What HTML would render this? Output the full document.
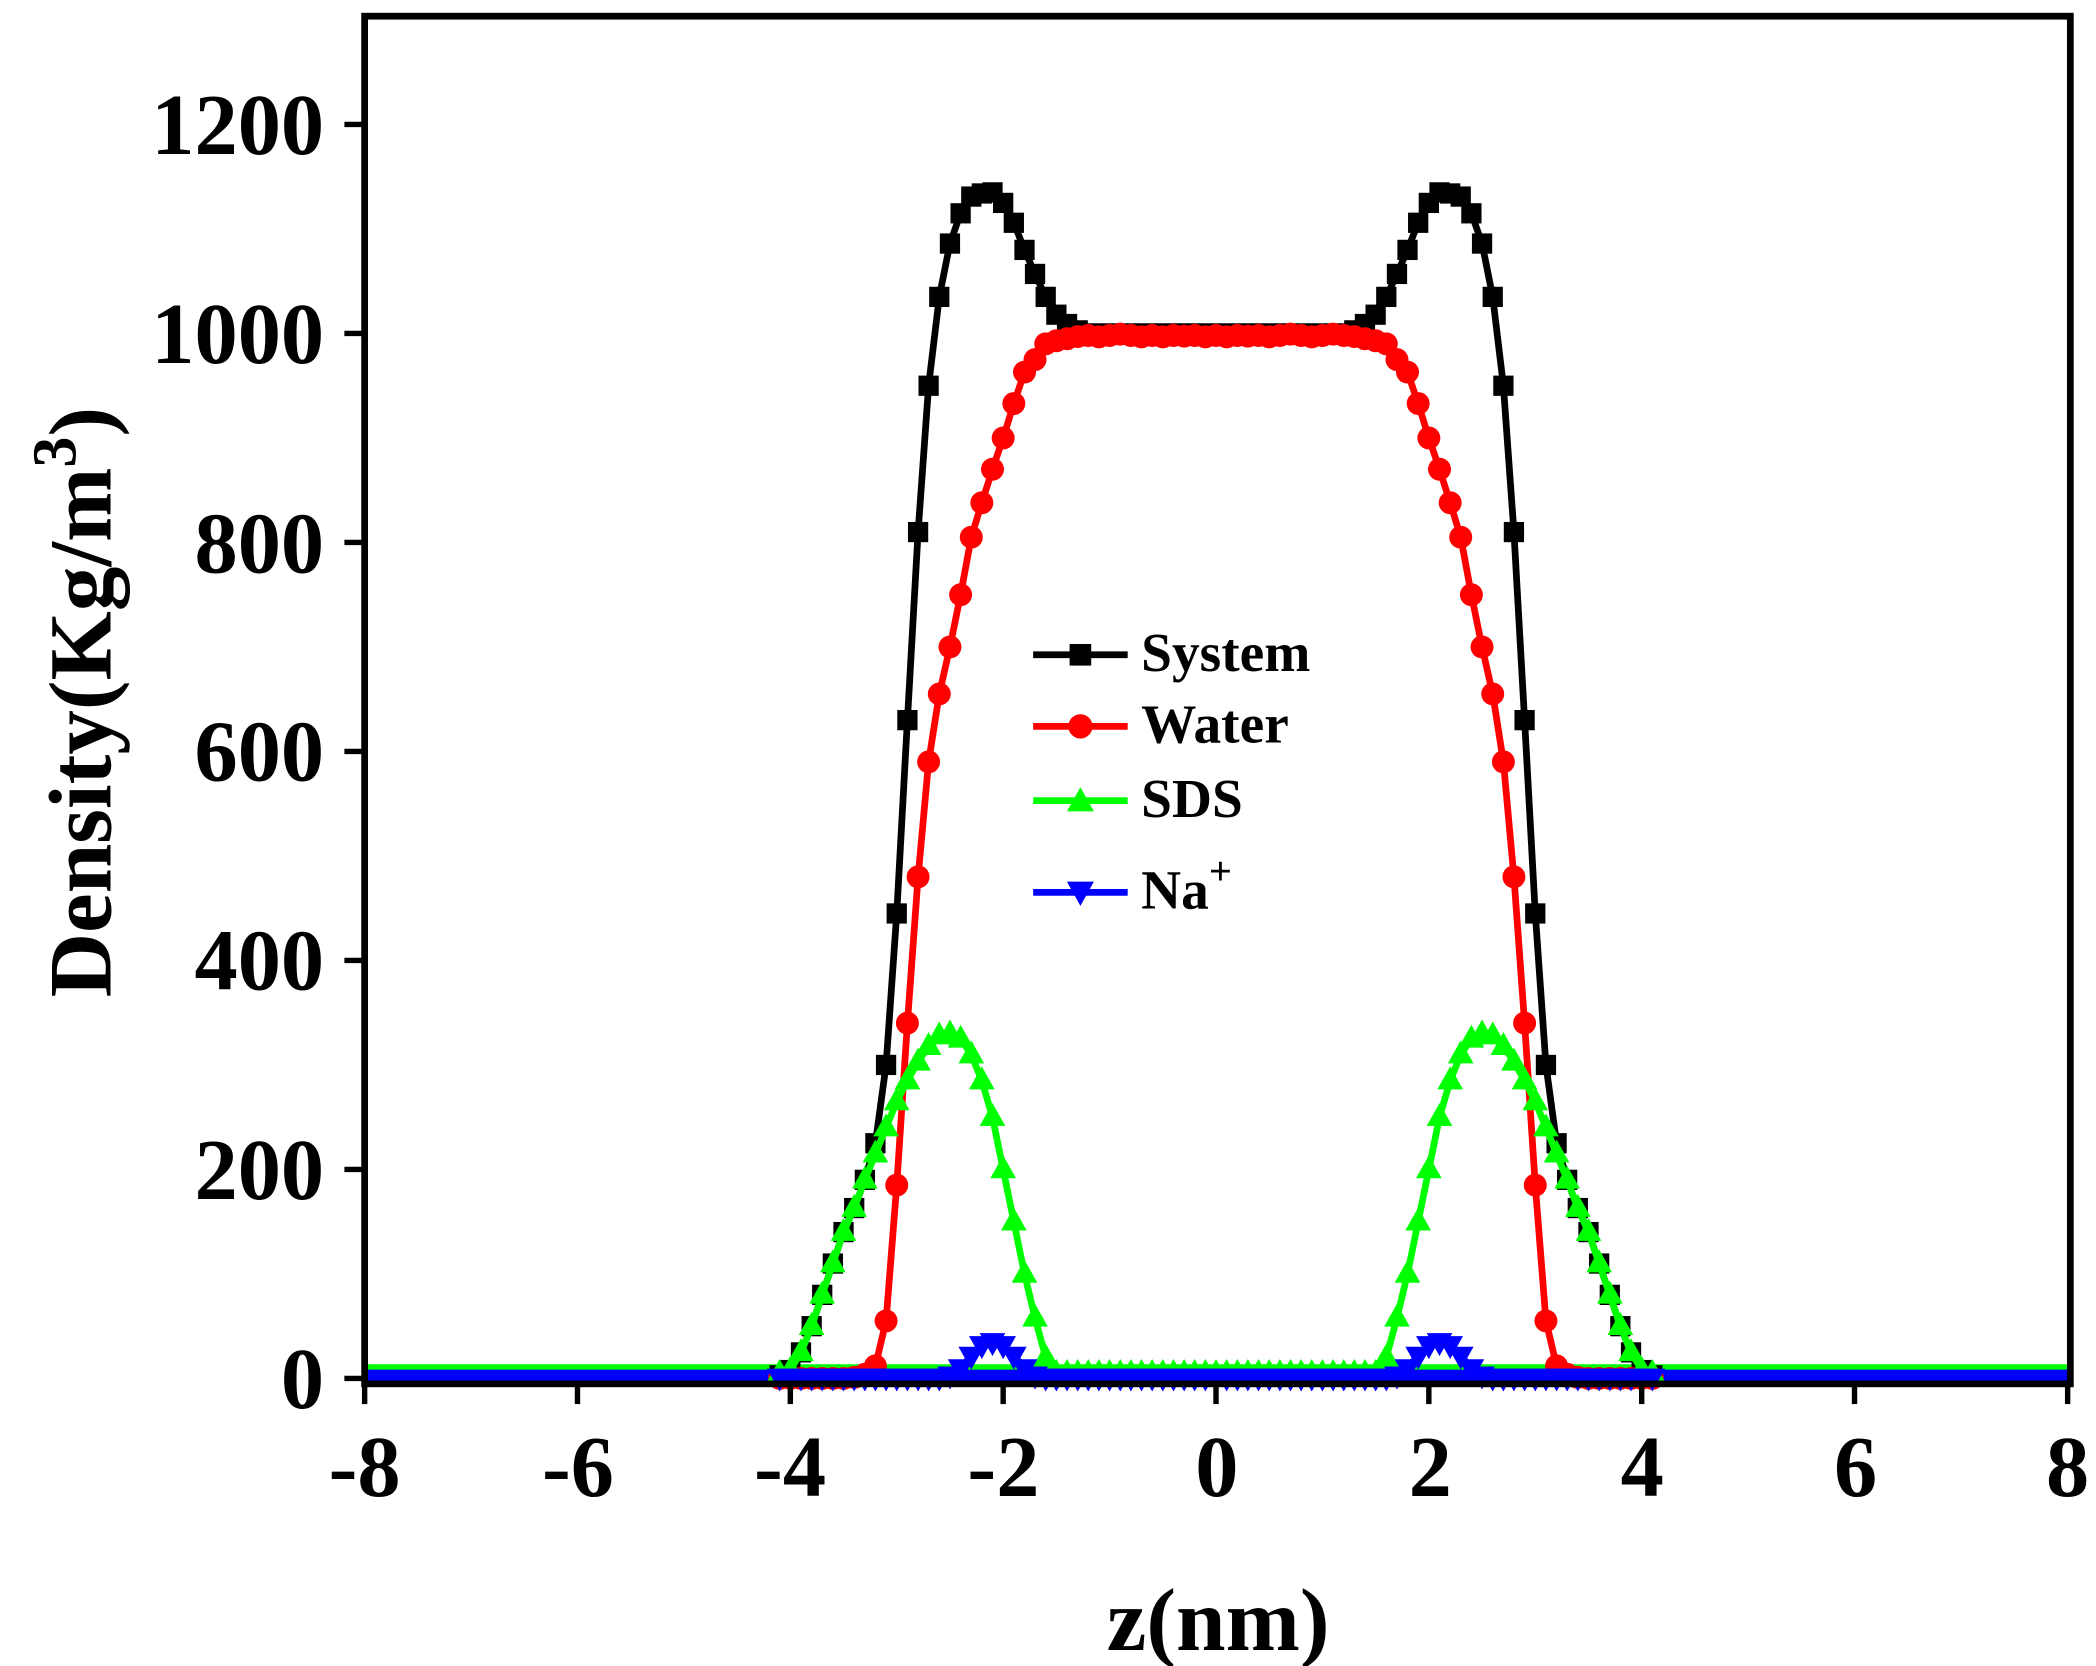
<!DOCTYPE html>
<html><head><meta charset="utf-8">
<style>html,body{margin:0;padding:0;background:#fff;}svg{display:block;}</style>
</head><body>
<svg xmlns="http://www.w3.org/2000/svg" width="2096" height="1666" viewBox="0 0 1552 1234" preserveAspectRatio="none" font-family="'Liberation Serif',serif" font-weight="bold">
<defs>
<marker id="ms" markerUnits="userSpaceOnUse" markerWidth="16" markerHeight="16" refX="7.5" refY="7.5" overflow="visible"><rect x="0" y="0" width="15" height="15" fill="#000"/></marker>
<marker id="mc" markerUnits="userSpaceOnUse" markerWidth="18" markerHeight="18" refX="9" refY="9" overflow="visible"><circle cx="9" cy="9" r="8.5" fill="#f00"/></marker>
<marker id="mt" markerUnits="userSpaceOnUse" markerWidth="20" markerHeight="20" refX="9.5" refY="11" overflow="visible"><polygon points="9.5,0.5 19,17.5 0,17.5" fill="#0f0"/></marker>
<marker id="mv" markerUnits="userSpaceOnUse" markerWidth="20" markerHeight="20" refX="9.5" refY="8" overflow="visible"><polygon points="0,1.5 19,1.5 9.5,18.5" fill="#00f"/></marker>
</defs>
<rect width="1552" height="1234" fill="#fff"/>

<line x1="270" y1="1019" x2="1531" y2="1019" stroke="#000" stroke-width="5"/>
<line x1="270" y1="1021" x2="1531" y2="1021" stroke="#f00" stroke-width="5"/>
<line x1="270" y1="1014" x2="1531" y2="1014" stroke="#0f0" stroke-width="7"/>
<line x1="270" y1="1020" x2="1531" y2="1020" stroke="#00f" stroke-width="11"/>

<polyline fill="none" stroke="#000" stroke-width="5" marker-start="url(#ms)" marker-mid="url(#ms)" marker-end="url(#ms)" points="577.3,1018.7 585.2,1014.8 593.1,1001.7 601.0,982.3 608.8,959.1 616.7,935.9 624.6,912.6 632.5,894.8 640.4,873.9 648.2,846.8 656.1,788.8 664.0,676.6 671.9,533.4 679.8,394.1 687.6,285.7 695.5,219.9 703.4,180.4 711.3,158.0 719.2,145.6 727.0,143.3 734.9,142.5 742.8,150.3 750.7,165.0 758.6,185.1 766.4,202.9 774.3,219.9 782.2,233.1 790.1,240.0 798.0,244.7 805.8,247 813.7,247 821.6,247 829.5,247 837.4,247 845.2,247 853.1,247 861.0,247 868.9,247 876.8,247 884.6,247 892.5,247 900.4,247 908.3,247 916.2,247 924.0,247 931.9,247 939.8,247 947.7,247 955.6,247 963.4,247 971.3,247 979.2,247 987.1,247 995.0,247 1002.8,244.7 1010.7,240.0 1018.6,233.1 1026.5,219.9 1034.4,202.9 1042.2,185.1 1050.1,165.0 1058.0,150.3 1065.9,142.5 1073.8,143.3 1081.6,145.6 1089.5,158.0 1097.4,180.4 1105.3,219.9 1113.2,285.7 1121.0,394.1 1128.9,533.4 1136.8,676.6 1144.7,788.8 1152.6,846.8 1160.4,873.9 1168.3,894.8 1176.2,912.6 1184.1,935.9 1192.0,959.1 1199.8,982.3 1207.7,1001.7 1215.6,1014.8 1223.5,1018.7"/>

<polyline fill="none" stroke="#f00" stroke-width="5" marker-start="url(#mc)" marker-mid="url(#mc)" marker-end="url(#mc)" points="577.3,1021 585.2,1021 593.1,1021 601.0,1021 608.8,1021 616.7,1021 624.6,1021 632.5,1020.2 640.4,1017.9 648.2,1011.7 656.1,978.4 664.0,877.8 671.9,757.8 679.8,649.5 687.6,564.3 695.5,514.0 703.4,479.2 711.3,440.5 719.2,397.9 727.0,372.4 734.9,347.6 742.8,324.4 750.7,298.9 758.6,275.6 766.4,266.4 774.3,254.7 782.2,252.4 790.1,250.9 798.0,249.3 805.8,248.5 813.7,249.5 821.6,248.5 829.5,247.5 837.4,248.5 845.2,249.5 853.1,248.5 861.0,249.5 868.9,248.5 876.8,249 884.6,248.5 892.5,249.5 900.4,248.5 908.3,249.5 916.2,248.5 924.0,249 931.9,248.5 939.8,249.5 947.7,248.5 955.6,247.5 963.4,248.5 971.3,249.5 979.2,248.5 987.1,247.5 995.0,248.5 1002.8,249.3 1010.7,250.9 1018.6,252.4 1026.5,254.7 1034.4,266.4 1042.2,275.6 1050.1,298.9 1058.0,324.4 1065.9,347.6 1073.8,372.4 1081.6,397.9 1089.5,440.5 1097.4,479.2 1105.3,514.0 1113.2,564.3 1121.0,649.5 1128.9,757.8 1136.8,877.8 1144.7,978.4 1152.6,1011.7 1160.4,1017.9 1168.3,1020.2 1176.2,1021 1184.1,1021 1192.0,1021 1199.8,1021 1207.7,1021 1215.6,1021 1223.5,1021"/>

<polyline fill="none" stroke="#0f0" stroke-width="5" marker-start="url(#mt)" marker-mid="url(#mt)" marker-end="url(#mt)" points="577.3,1017.1 585.2,1014.8 593.1,1001.7 601.0,982.3 608.8,959.1 616.7,935.9 624.6,912.6 632.5,894.8 640.4,873.9 648.2,854.6 656.1,835.2 664.0,815.9 671.9,800.4 679.8,786.5 687.6,774.9 695.5,767.1 703.4,765.6 711.3,769.5 719.2,781.1 727.0,800.4 734.9,827.5 742.8,866.2 750.7,904.9 758.6,943.6 766.4,976.1 774.3,1005.5 782.2,1017.1 790.1,1017.1 798.0,1017.1 805.8,1017.1 813.7,1017.1 821.6,1017.1 829.5,1017.1 837.4,1017.1 845.2,1017.1 853.1,1017.1 861.0,1017.1 868.9,1017.1 876.8,1017.1 884.6,1017.1 892.5,1017.1 900.4,1017.1 908.3,1017.1 916.2,1017.1 924.0,1017.1 931.9,1017.1 939.8,1017.1 947.7,1017.1 955.6,1017.1 963.4,1017.1 971.3,1017.1 979.2,1017.1 987.1,1017.1 995.0,1017.1 1002.8,1017.1 1010.7,1017.1 1018.6,1017.1 1026.5,1005.5 1034.4,976.1 1042.2,943.6 1050.1,904.9 1058.0,866.2 1065.9,827.5 1073.8,800.4 1081.6,781.1 1089.5,769.5 1097.4,765.6 1105.3,767.1 1113.2,774.9 1121.0,786.5 1128.9,800.4 1136.8,815.9 1144.7,835.2 1152.6,854.6 1160.4,873.9 1168.3,894.8 1176.2,912.6 1184.1,935.9 1192.0,959.1 1199.8,982.3 1207.7,1001.7 1215.6,1014.8 1223.5,1017.1"/>

<polyline fill="none" stroke="#00f" stroke-width="5" marker-start="url(#mv)" marker-mid="url(#mv)" marker-end="url(#mv)" points="577.3,1020.2 585.2,1020.2 593.1,1020.2 601.0,1020.2 608.8,1020.2 616.7,1020.2 624.6,1020.2 632.5,1020.2 640.4,1020.2 648.2,1020.2 656.1,1020.2 664.0,1020.2 671.9,1020.2 679.8,1020.2 687.6,1020.2 695.5,1020.2 703.4,1018.7 711.3,1013.3 719.2,1004.0 727.0,996.2 734.9,993.9 742.8,996.2 750.7,1004.0 758.6,1013.3 766.4,1018.7 774.3,1020.2 782.2,1020.2 790.1,1020.2 798.0,1020.2 805.8,1020.2 813.7,1020.2 821.6,1020.2 829.5,1020.2 837.4,1020.2 845.2,1020.2 853.1,1020.2 861.0,1020.2 868.9,1020.2 876.8,1020.2 884.6,1020.2 892.5,1020.2 900.4,1020.2 908.3,1020.2 916.2,1020.2 924.0,1020.2 931.9,1020.2 939.8,1020.2 947.7,1020.2 955.6,1020.2 963.4,1020.2 971.3,1020.2 979.2,1020.2 987.1,1020.2 995.0,1020.2 1002.8,1020.2 1010.7,1020.2 1018.6,1020.2 1026.5,1020.2 1034.4,1018.7 1042.2,1013.3 1050.1,1004.0 1058.0,996.2 1065.9,993.9 1073.8,996.2 1081.6,1004.0 1089.5,1013.3 1097.4,1018.7 1105.3,1020.2 1113.2,1020.2 1121.0,1020.2 1128.9,1020.2 1136.8,1020.2 1144.7,1020.2 1152.6,1020.2 1160.4,1020.2 1168.3,1020.2 1176.2,1020.2 1184.1,1020.2 1192.0,1020.2 1199.8,1020.2 1207.7,1020.2 1215.6,1020.2 1223.5,1020.2"/>

<rect x="270" y="12" width="1263" height="1013" fill="none" stroke="#000" stroke-width="5"/>
<g stroke="#000" stroke-width="4">
<line x1="255" y1="1021" x2="270" y2="1021"/><line x1="255" y1="866.2" x2="270" y2="866.2"/><line x1="255" y1="711.4" x2="270" y2="711.4"/><line x1="255" y1="556.6" x2="270" y2="556.6"/><line x1="255" y1="401.8" x2="270" y2="401.8"/><line x1="255" y1="247" x2="270" y2="247"/><line x1="255" y1="92.2" x2="270" y2="92.2"/>
<line x1="270" y1="1025" x2="270" y2="1040"/><line x1="427.6" y1="1025" x2="427.6" y2="1040"/><line x1="585.2" y1="1025" x2="585.2" y2="1040"/><line x1="742.8" y1="1025" x2="742.8" y2="1040"/><line x1="900.4" y1="1025" x2="900.4" y2="1040"/><line x1="1058" y1="1025" x2="1058" y2="1040"/><line x1="1215.6" y1="1025" x2="1215.6" y2="1040"/><line x1="1373.2" y1="1025" x2="1373.2" y2="1040"/><line x1="1531" y1="1025" x2="1531" y2="1040"/>
</g>
<g font-size="64" text-anchor="end">
<text x="240" y="1043">0</text><text x="240" y="888">200</text><text x="240" y="733">400</text>
<text x="240" y="578">600</text><text x="240" y="424">800</text><text x="240" y="269">1000</text><text x="240" y="114">1200</text>
</g>
<g font-size="64" text-anchor="middle">
<text x="270" y="1108">-8</text><text x="428" y="1108">-6</text><text x="585" y="1108">-4</text><text x="743" y="1108">-2</text>
<text x="901" y="1108">0</text><text x="1059" y="1108">2</text><text x="1216" y="1108">4</text><text x="1374" y="1108">6</text><text x="1531" y="1108">8</text>
</g>
<text x="902" y="1222" font-size="66" text-anchor="middle">z(nm)</text>
<text transform="translate(82,520) rotate(-90)" font-size="66" text-anchor="middle">Density(Kg/m<tspan font-size="46" dy="-26">3</tspan><tspan dy="26">)</tspan></text>
<g font-size="41">
<line x1="765" y1="485" x2="835" y2="485" stroke="#000" stroke-width="5"/><rect x="792" y="477" width="16" height="16" fill="#000"/>
<text x="845" y="497">System</text>
<line x1="765" y1="538" x2="835" y2="538" stroke="#f00" stroke-width="5"/><circle cx="800" cy="538" r="9" fill="#f00"/>
<text x="845" y="550">Water</text>
<line x1="765" y1="593" x2="835" y2="593" stroke="#0f0" stroke-width="5"/><polygon points="800,583 810,601 790,601" fill="#0f0"/>
<text x="845" y="605">SDS</text>
<line x1="765" y1="661" x2="835" y2="661" stroke="#00f" stroke-width="5"/><polygon points="790,653 810,653 800,671" fill="#00f"/>
<text x="845" y="673">Na<tspan font-size="30" dy="-18">+</tspan></text>
</g>
</svg>
</body></html>
